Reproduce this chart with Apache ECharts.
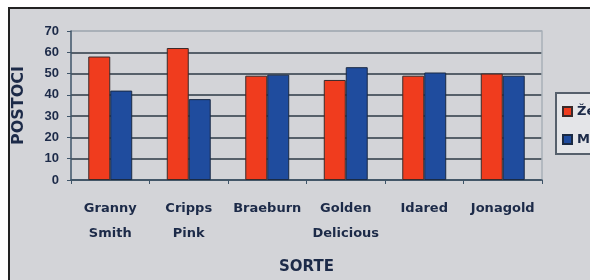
<!DOCTYPE html>
<html>
<head>
<meta charset="utf-8">
<script src="https://cdn.jsdelivr.net/npm/echarts@6/dist/echarts.min.js"></script>
<style>
  html, body { margin: 0; padding: 0; background: #fff; }
  #frame { position: absolute; left: 8px; top: 7px; width: 582px; height: 273px;
           border-left: 2px solid #222; border-top: 2px solid #222; background: #d3d4d8; }
  #chart-panel { position: absolute; left: -10px; top: -9px; width: 590px; height: 280px; }
</style>
</head>
<body>
<div id="frame"><div id="chart-panel"></div></div>
<script>
var categories = ['Granny\nSmith', 'Cripps\nPink', 'Braeburn', 'Golden\nDelicious', 'Idared', 'Jonagold'];
var zenski = [58, 62, 49, 47, 49, 50];
var muski = [42, 38, 49.5, 53, 50.5, 49];
var seriesNames = ['Ženski', 'Muški'];

var textColor = '#1c2a48';
var boldFont = function (family, size) {
    return {color: textColor, fontFamily: family, fontWeight: 'bold', fontSize: size};
};

var option = {
    animation: false,
    backgroundColor: 'transparent',
    color: ['#f03c1e', '#1f4c9e'],
    grid: {
        left: 71,
        right: 48,
        top: 31,
        bottom: 99
    },
    legend: {
        orient: 'vertical',
        left: 556,
        top: 93,
        padding: [12, 40, 8, 6],
        itemGap: 15,
        itemWidth: 9,
        itemHeight: 9,
        icon: 'rect',
        backgroundColor: '#e4e5e8',
        borderColor: '#56606c',
        borderWidth: 2,
        textStyle: boldFont('DejaVu Sans', 13),
        data: seriesNames
    },
    xAxis: {
        type: 'category',
        data: categories,
        name: 'SORTE',
        nameLocation: 'middle',
        nameGap: 80,
        nameTextStyle: boldFont('DejaVu Sans', 15),
        axisLine: {lineStyle: {color: '#3e5468', width: 1.5}},
        axisTick: {show: true, length: 4, lineStyle: {color: '#3e5468'}},
        axisLabel: Object.assign({margin: 16, lineHeight: 25, interval: 0}, boldFont('DejaVu Sans', 13))
    },
    yAxis: [{
        type: 'value',
        min: 0,
        max: 70,
        interval: 10,
        name: 'POSTOCI',
        nameLocation: 'middle',
        nameRotate: 90,
        nameGap: 44,
        nameTextStyle: boldFont('DejaVu Sans', 16),
        axisLine: {show: true, lineStyle: {color: '#3e5468', width: 1.5}},
        axisTick: {show: true, length: 4, lineStyle: {color: '#3e5468'}},
        axisLabel: Object.assign({margin: 12}, boldFont('Liberation Sans', 13)),
        splitLine: {
            show: true,
            lineStyle: {
                color: ['#56606a', '#56606a', '#56606a', '#56606a', '#56606a', '#56606a', '#56606a', '#a9b0b8'],
                width: 2
            }
        }
    }, {
        type: 'value',
        min: 0,
        max: 70,
        interval: 10,
        position: 'right',
        axisLine: {show: true, lineStyle: {color: '#a9b0b8', width: 1.5}},
        axisTick: {show: false},
        axisLabel: {show: false},
        splitLine: {show: false}
    }],
    series: [{
        name: seriesNames[0],
        type: 'bar',
        data: zenski,
        barGap: '0%',
        barCategoryGap: '44%',
        itemStyle: {borderColor: '#3a2a2a', borderWidth: 1}
    }, {
        name: seriesNames[1],
        type: 'bar',
        data: muski,
        itemStyle: {borderColor: '#1a2a44', borderWidth: 1}
    }]
};

var myChart = echarts.init(document.getElementById('chart-panel'));
myChart.setOption(option);
</script>
</body>
</html>
